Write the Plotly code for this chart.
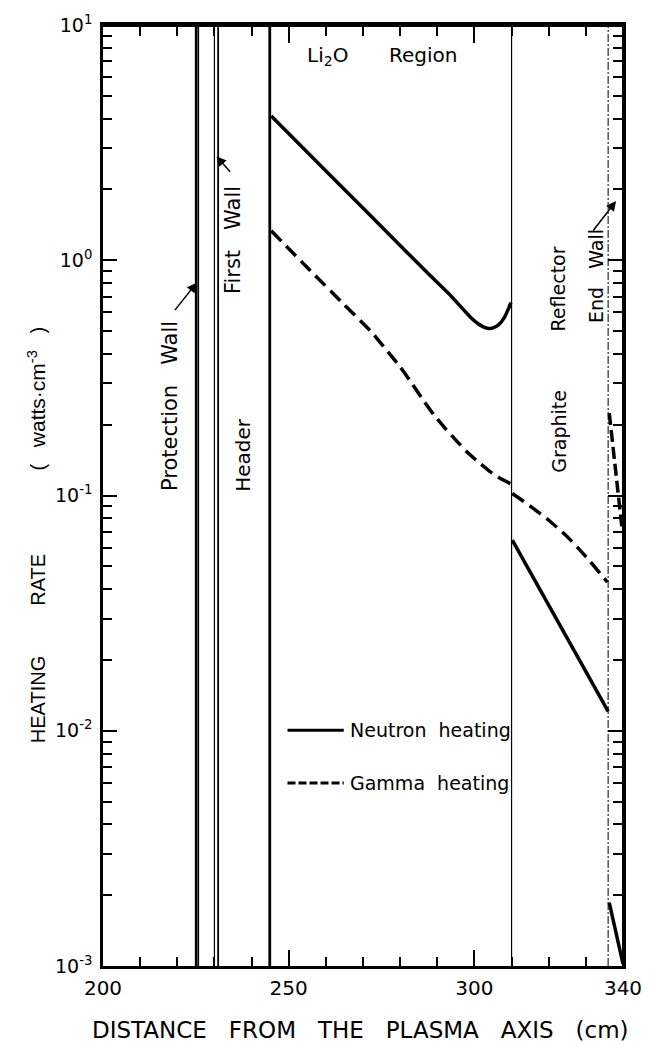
import plotly.graph_objects as go

# ---------------- data ----------------
# Li2O region
neutron_li2o_x = [245.3, 255, 265, 277, 287, 293, 297, 299, 301, 302.5, 303.8, 305, 306.5, 308, 309.2, 309.8]
neutron_li2o_y = [4.10, 2.88, 2.00, 1.29, 0.895, 0.724, 0.618, 0.571, 0.537, 0.520, 0.513, 0.516, 0.531, 0.569, 0.624, 0.661]
gamma_li2o_x = [245.3, 255, 265, 272, 277, 280, 283, 286, 289, 292, 295, 298, 301, 304, 307, 309.8]
gamma_li2o_y = [1.334, 0.931, 0.646, 0.501, 0.403, 0.353, 0.302, 0.257, 0.221, 0.194, 0.172, 0.153, 0.139, 0.127, 0.118, 0.112]
# Graphite reflector
neutron_graphite_x = [310.2, 336.0]
neutron_graphite_y = [0.0646, 0.0121]
gamma_graphite_x = [310.2, 315, 320, 325, 330, 335.8]
gamma_graphite_y = [0.102, 0.0902, 0.0785, 0.0668, 0.0550, 0.0428]
# End wall
neutron_endwall_x = [336.3, 340.0]
neutron_endwall_y = [0.00186, 0.00102]
gamma_endwall_x = [336.3, 339.8]
gamma_endwall_y = [0.224, 0.071]

# region boundaries (cm)
protection_wall = [225.1, 225.7]
first_wall = [230.0, 231.0]
header_end = [244.9]
li2o_end = [310.0]
graphite_end = [336.0]

x_ticks = [200, 250, 300, 340]
y_ticks = [1e-3, 1e-2, 1e-1, 1e0, 1e1]
y_ticktext = ["10<sup>-3</sup>", "10<sup>-2</sup>", "10<sup>-1</sup>", "10<sup>0</sup>", "10<sup>1</sup>"]

# ---------------- layout helpers ----------------
W, H = 654, 1045
L, R, T, B = 103, 630, 20, 966
FONT = "DejaVu Sans"


def px(xp):
    return (xp - L) / (R - L)


def py(yp):
    return (B - yp) / (B - T)


fig = go.Figure()

solid = dict(color="black", width=3.5)
dashed = dict(color="black", width=3.5, dash="14px,7px")

fig.add_trace(go.Scatter(x=neutron_li2o_x, y=neutron_li2o_y, mode="lines",
                         line=dict(solid, shape="spline", smoothing=0.5), name="Neutron heating"))
fig.add_trace(go.Scatter(x=gamma_li2o_x, y=gamma_li2o_y, mode="lines",
                         line=dict(dashed, shape="spline", smoothing=0.5), name="Gamma heating"))
fig.add_trace(go.Scatter(x=neutron_graphite_x, y=neutron_graphite_y, mode="lines", line=solid))
fig.add_trace(go.Scatter(x=gamma_graphite_x, y=gamma_graphite_y, mode="lines",
                         line=dict(dashed, shape="spline", smoothing=0.5)))
fig.add_trace(go.Scatter(x=neutron_endwall_x, y=neutron_endwall_y, mode="lines", line=solid))
fig.add_trace(go.Scatter(x=gamma_endwall_x, y=gamma_endwall_y, mode="lines",
                         line=dict(color="black", width=3.5, dash="12px,5px")))
# invisible trace to anchor the top / right tick axes
fig.add_trace(go.Scatter(x=neutron_endwall_x, y=neutron_endwall_y, mode="lines", xaxis="x2", yaxis="y2",
                         opacity=0, hoverinfo="skip", line=dict(width=0.1, color="white")))

# boundary lines
for xb, w in zip(protection_wall, [2.8, 1.3]):
    fig.add_shape(type="line", xref="x", yref="paper", x0=xb, x1=xb, y0=0, y1=1,
                  line=dict(color="black", width=w))
for xb, w in zip(first_wall, [1.2, 1.8]):
    fig.add_shape(type="line", xref="x", yref="paper", x0=xb, x1=xb, y0=0, y1=1,
                  line=dict(color="black", width=w))
for xb in header_end:
    fig.add_shape(type="line", xref="x", yref="paper", x0=xb, x1=xb, y0=0, y1=1,
                  line=dict(color="black", width=2.8))
for xb in li2o_end:
    fig.add_shape(type="line", xref="x", yref="paper", x0=xb, x1=xb, y0=0, y1=1,
                  line=dict(color="black", width=1.2))
for xb in graphite_end:
    fig.add_shape(type="line", xref="x", yref="paper", x0=xb, x1=xb, y0=0, y1=1,
                  line=dict(color="black", width=1.0, dash="8px,2px,2px,2px"))

# legend samples
fig.add_shape(type="line", xref="paper", yref="paper", x0=px(290), x1=px(347), y0=py(729), y1=py(729),
              line=dict(color="black", width=3))
fig.add_shape(type="line", xref="paper", yref="paper", x0=px(290), x1=px(347), y0=py(782), y1=py(782),
              line=dict(color="black", width=3, dash="8px,3px"))

nb = "\u00a0"
ann = []


def text(t, xp, yp, size=20, angle=0, xanchor="center", family=FONT):
    ann.append(dict(text=t, x=px(xp), y=py(yp), xref="paper", yref="paper", showarrow=False,
                    textangle=angle, xanchor=xanchor, yanchor="middle",
                    font=dict(family=family, size=size, color="black")))


text("Li<sub>2</sub>O", 331, 51)
text("Region", 427, 50)
text("Protection" + nb * 3 + "Wall", 171, 403, angle=-90, size=21)
text("First" + nb * 3 + "Wall", 235, 236, angle=-90, size=21)
text("Header", 245, 452, angle=-90)
text("Graphite", 565, 428, angle=-90, size=19)
text("Reflector", 564, 285, angle=-90, size=19)
text("End" + nb * 3 + "Wall", 602, 272, angle=-90, size=19)
text("Neutron" + nb * 2 + "heating", 351, 729, size=19, xanchor="left")
text("Gamma" + nb * 2 + "heating", 351, 782, size=19, xanchor="left")
text("DISTANCE" + nb * 3 + "FROM" + nb * 3 + "THE" + nb * 3 + "PLASMA" + nb * 3 + "AXIS" + nb * 3 + "(cm)",
     364, 1030, size=23)
text("HEATING" + nb * 9 + "RATE" + nb * 15 + "(" + nb * 3
     + "<span style='font-size:21px'>watts·cm<sup>-3</sup></span>" + nb * 3 + ")",
     36, 533, size=20, angle=-90, family="Liberation Sans")


def arrow(hx, hy, tx, ty):
    ann.append(dict(text="", x=px(hx), y=py(hy), xref="paper", yref="paper", showarrow=True,
                    ax=tx - hx, ay=ty - hy, axref="pixel", ayref="pixel",
                    arrowhead=2, arrowsize=1.3, arrowwidth=1.5, arrowcolor="black", standoff=0))


arrow(198, 279, 175, 308)
arrow(218, 152, 233, 169)
arrow(623, 197, 599, 228)

minor_y = [k * 10.0 ** e for e in range(-3, 1) for k in range(2, 10)]
xminor = dict(tickmode="linear", tick0=200, dtick=10, ticks="inside", ticklen=9,
              tickwidth=2, tickcolor="black", showgrid=False)
yminor = dict(tickmode="array", tickvals=minor_y, ticks="inside", ticklen=9,
              tickwidth=2, tickcolor="black", showgrid=False)
xbase = dict(range=[200, 340], showgrid=False, zeroline=False,
             showline=True, linecolor="black", linewidth=2.5,
             ticks="inside", ticklen=16, tickwidth=2, tickcolor="black",
             tickmode="array", tickvals=x_ticks, ticktext=[str(v) for v in x_ticks], minor=xminor)
ybase = dict(type="log", range=[-3, 1], showgrid=False, zeroline=False,
             showline=True, linecolor="black", linewidth=2.5,
             ticks="inside", ticklen=14, tickwidth=2, tickcolor="black",
             tickmode="array", tickvals=y_ticks, ticktext=y_ticktext, minor=yminor)

fig.update_layout(
    width=W, height=H,
    margin=dict(l=L, r=W - R, t=T, b=H - B),
    paper_bgcolor="white", plot_bgcolor="white",
    showlegend=False,
    annotations=ann,
    xaxis=dict(xbase, mirror="ticks",
               tickfont=dict(family=FONT, size=20, color="black"), ticklabelstandoff=2),
    yaxis=dict(ybase, mirror="ticks",
               tickfont=dict(family=FONT, size=19, color="black"), ticklabelstandoff=4),
    xaxis2=dict(xbase, overlaying="x", side="top", anchor="free", position=1, showticklabels=False),
    yaxis2=dict(ybase, overlaying="y", side="right", anchor="free", position=1, showticklabels=False),
)

fig.write_html("out.html")
